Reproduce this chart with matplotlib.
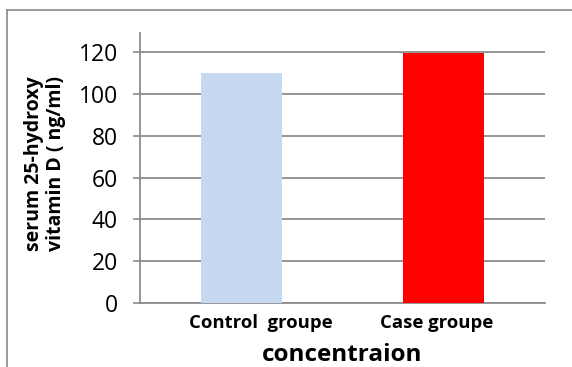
#!/usr/bin/env python3

import matplotlib
matplotlib.use('Agg')
import matplotlib.pyplot as plt
import matplotlib.transforms as mtransforms
from matplotlib.lines import Line2D

plt.rcParams.update({
    'font.family': 'Open Sans',
    'font.size': 12,
})

groups = ['Control  groupe', 'Case groupe']
values = [110, 119.5]
bar_colors = ['#c6d9f1', '#ff0000']
y_ticks = [0, 20, 40, 60, 80, 100, 120]

grid_color = '#8c8c8c'

fig = plt.figure(figsize=(5.72, 3.67), dpi=100)
ax = fig.add_axes([0.2448, 0.1744, 0.708, 0.7357])

x = range(len(groups))
ax.bar(x, values, width=0.4, color=bar_colors, zorder=3)

ax.set_xlim(-0.5, 1.5)
ax.set_ylim(0, 129.2)
ax.set_yticks(y_ticks)
ax.set_xticks(list(x))
ax.set_xticklabels(groups, fontweight='bold', fontsize=13.3)
ax.tick_params(axis='x', length=0, pad=8)
ax.tick_params(axis='y', length=5, width=1.2, color=grid_color, labelsize=16.5, pad=11)

# labels are not quite centred under the bars in the original
for lbl, dx in zip(ax.get_xticklabels(), [20, -7]):
    lbl.set_transform(lbl.get_transform() +
                      mtransforms.ScaledTranslation(dx / 100, 0, fig.dpi_scale_trans))

ax.yaxis.grid(True, color=grid_color, linewidth=1.3, zorder=0)
ax.set_axisbelow(True)

for side in ['top', 'right']:
    ax.spines[side].set_visible(False)
for side in ['left', 'bottom']:
    ax.spines[side].set_color(grid_color)
    ax.spines[side].set_linewidth(1.3)

ax.set_xlabel('concentraion', fontweight='bold', fontsize=17.5, labelpad=8)

fig.text(45 / 572, 1 - 164 / 367, 'serum 25-hydroxy\nvitamin D ( ng/ml)',
         rotation=90, ha='center', va='center', multialignment='center',
         fontweight='bold', fontsize=14, linespacing=1.15)

# chart border (cropped at right and bottom)
fig.add_artist(Line2D([7 / 572, 7 / 572], [0, 1 - 10 / 367],
                      transform=fig.transFigure, color='#8a8a8a', linewidth=1.2))
fig.add_artist(Line2D([7 / 572, 1], [1 - 10 / 367, 1 - 10 / 367],
                      transform=fig.transFigure, color='#8a8a8a', linewidth=1.2))

fig.savefig('out.png', dpi=100)
